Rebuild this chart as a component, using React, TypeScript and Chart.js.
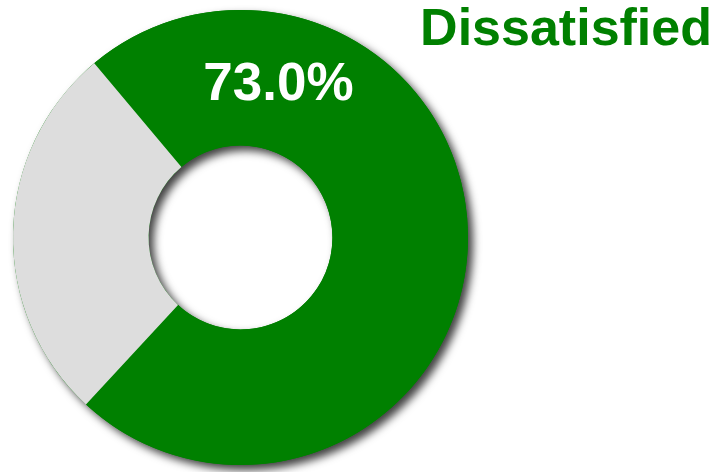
import React, { useEffect, useRef } from "react";
import { Chart, registerables } from "chart.js";

Chart.register(...registerables);

const categories = ["Dissatisfied", "Other"];
const values = [73, 27];
const colors = ["#008000", "#dddddd"];
const titleText = "Dissatisfied";
const labelText = "73.0%";

const shadowPlugin = {
  id: "ringShadow",
  beforeDatasetsDraw(chart: any) {
    const meta = chart.getDatasetMeta(0);
    const arc = meta.data[0];
    if (!arc) return;
    const { x, y, outerRadius, innerRadius } = arc.getProps(["x", "y", "outerRadius", "innerRadius"], true);
    const ctx = chart.ctx;
    ctx.save();
    ctx.shadowColor = "rgba(0,0,0,0.75)";
    ctx.shadowBlur = 8;
    ctx.shadowOffsetX = 5;
    ctx.shadowOffsetY = 5;
    ctx.beginPath();
    ctx.arc(x, y, outerRadius, 0, Math.PI * 2, false);
    ctx.arc(x, y, innerRadius, 0, Math.PI * 2, true);
    ctx.closePath();
    ctx.fillStyle = "#008000";
    ctx.fill("evenodd");
    ctx.restore();
  },
  afterDatasetsDraw(chart: any) {
    const meta = chart.getDatasetMeta(0);
    const arc = meta.data[0];
    if (!arc) return;
    const { x, y, outerRadius, innerRadius } = arc.getProps(["x", "y", "outerRadius", "innerRadius"], true);
    const ctx = chart.ctx;
    const r = (outerRadius + innerRadius) / 2 - 3;
    const ang = (14 * Math.PI) / 180;
    const lx = x + r * Math.sin(ang);
    const ly = y - r * Math.cos(ang);
    ctx.save();
    ctx.font = "bold 53px 'Liberation Sans', Arial, sans-serif";
    ctx.fillStyle = "#ffffff";
    ctx.textAlign = "center";
    ctx.textBaseline = "middle";
    ctx.fillText(labelText, lx, ly);
    ctx.font = "bold 52px 'Liberation Sans', Arial, sans-serif";
    ctx.fillStyle = "#008000";
    ctx.textAlign = "right";
    ctx.textBaseline = "alphabetic";
    ctx.fillText(titleText, 712, 45);
    ctx.restore();
  },
};

export default function App() {
  const ref = useRef<HTMLCanvasElement | null>(null);
  useEffect(() => {
    document.body.style.margin = "0";
    const canvas = ref.current!;
    const chart = new Chart(canvas, {
      type: "doughnut",
      data: {
        labels: categories,
        datasets: [
          {
            data: values,
            backgroundColor: colors,
            borderWidth: 0,
          },
        ],
      },
      options: {
        animation: false,
        responsive: false,
        rotation: -40,
        cutout: "40.4%",
        layout: { padding: { left: 13, top: 10, right: 249, bottom: 7 } },
        plugins: {
          legend: { display: false },
          tooltip: { enabled: false },
          title: { display: false },
        },
      },
      plugins: [shadowPlugin],
    });
    return () => chart.destroy();
  }, []);
  return (
    <div style={{ width: 717, height: 472 }}>
      <canvas ref={ref} width={717} height={472} style={{ display: "block" }} />
    </div>
  );
}
